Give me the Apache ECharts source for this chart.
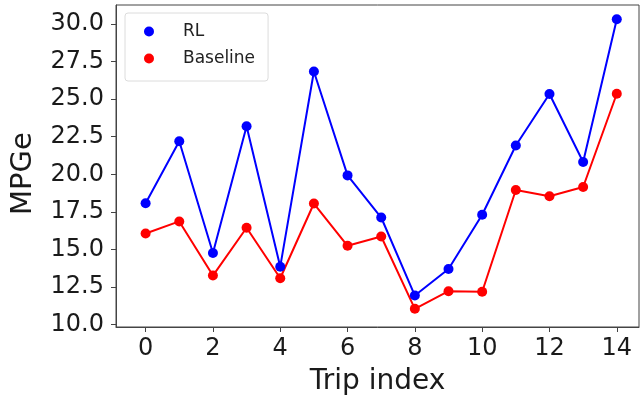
<!DOCTYPE html>
<html>
<head>
<meta charset="utf-8">
<script src="https://cdn.jsdelivr.net/npm/echarts@6/dist/echarts.min.js"></script>
<style>
  html, body { margin: 0; padding: 0; background: #fff; }
  #chart { width: 640px; height: 401px; }
</style>
</head>
<body>
<div id="chart"></div>
<script>
// data
var trips = [0, 1, 2, 3, 4, 5, 6, 7, 8, 9, 10, 11, 12, 13, 14];
var rlMpge = [18.08, 22.2, 14.77, 23.2, 13.86, 26.84, 19.93, 17.13, 11.94, 13.71, 17.31, 21.92, 25.34, 20.82, 30.31];
var baselineMpge = [16.07, 16.87, 13.27, 16.45, 13.09, 18.06, 15.25, 15.87, 11.06, 12.23, 12.19, 18.96, 18.54, 19.16, 25.36];
var xTicks = [0, 2, 4, 6, 8, 10, 12, 14];
var yTicks = [10, 12.5, 15, 17.5, 20, 22.5, 25, 27.5, 30];

var font = 'DejaVu Sans';
var ink = '#1a1a1a';

function pairs(values) {
    return trips.map(function (t, i) { return [t, values[i]]; });
}

var chart = echarts.init(document.getElementById('chart'), null, { renderer: 'canvas' });

var options = {
    animation: false,
    backgroundColor: '#fff',
    textStyle: { fontFamily: font },
    grid: {
        left: 116, right: 1, top: 5, bottom: 72,
        show: true, borderColor: '#444', borderWidth: 1
    },
    legend: {
        left: 125, top: 13,
        orient: 'vertical',
        icon: 'circle',
        itemWidth: 10, itemHeight: 10,
        itemGap: 10,
        padding: [10, 13, 14, 19],
        borderColor: '#dcdcdc', borderWidth: 1, borderRadius: 3,
        backgroundColor: '#fff',
        textStyle: { fontFamily: font, fontSize: 17, color: '#222', padding: [0, 0, 0, 24] },
        data: ['RL', 'Baseline']
    },
    xAxis: {
        type: 'value',
        min: -0.88, max: 14.66,
        name: 'Trip index',
        nameLocation: 'middle',
        nameGap: 41,
        nameTextStyle: { fontFamily: font, fontSize: 28, color: ink, verticalAlign: 'top' },
        axisLine: { show: true, onZero: false, lineStyle: { color: '#444', width: 1 } },
        axisTick: { show: true, length: 5, customValues: xTicks, lineStyle: { color: '#444' } },
        axisLabel: {
            customValues: xTicks, margin: 10,
            fontFamily: font, fontSize: 24, color: ink
        },
        splitLine: { show: false }
    },
    yAxis: {
        type: 'value',
        min: 9.85, max: 31.26,
        name: 'MPGe',
        nameLocation: 'middle',
        nameGap: 78,
        nameTextStyle: { fontFamily: font, fontSize: 29, color: ink, padding: [0, 15, 0, 0] },
        axisLine: { show: true, onZero: false, lineStyle: { color: '#444', width: 1 } },
        axisTick: { show: true, length: 5, customValues: yTicks, lineStyle: { color: '#444' } },
        axisLabel: {
            customValues: yTicks, margin: 12,
            fontFamily: font, fontSize: 24, color: ink,
            formatter: function (v) { return v.toFixed(1); }
        },
        splitLine: { show: false }
    },
    series: [{
        name: 'RL',
        type: 'line',
        data: pairs(rlMpge),
        symbol: 'circle', symbolSize: 10,
        itemStyle: { color: '#0000ff' },
        lineStyle: { color: '#0000ff', width: 2 }
    }, {
        name: 'Baseline',
        type: 'line',
        data: pairs(baselineMpge),
        symbol: 'circle', symbolSize: 10,
        itemStyle: { color: '#ff0000' },
        lineStyle: { color: '#ff0000', width: 2 }
    }]
};

chart.setOption(options);
</script>
</body>
</html>
